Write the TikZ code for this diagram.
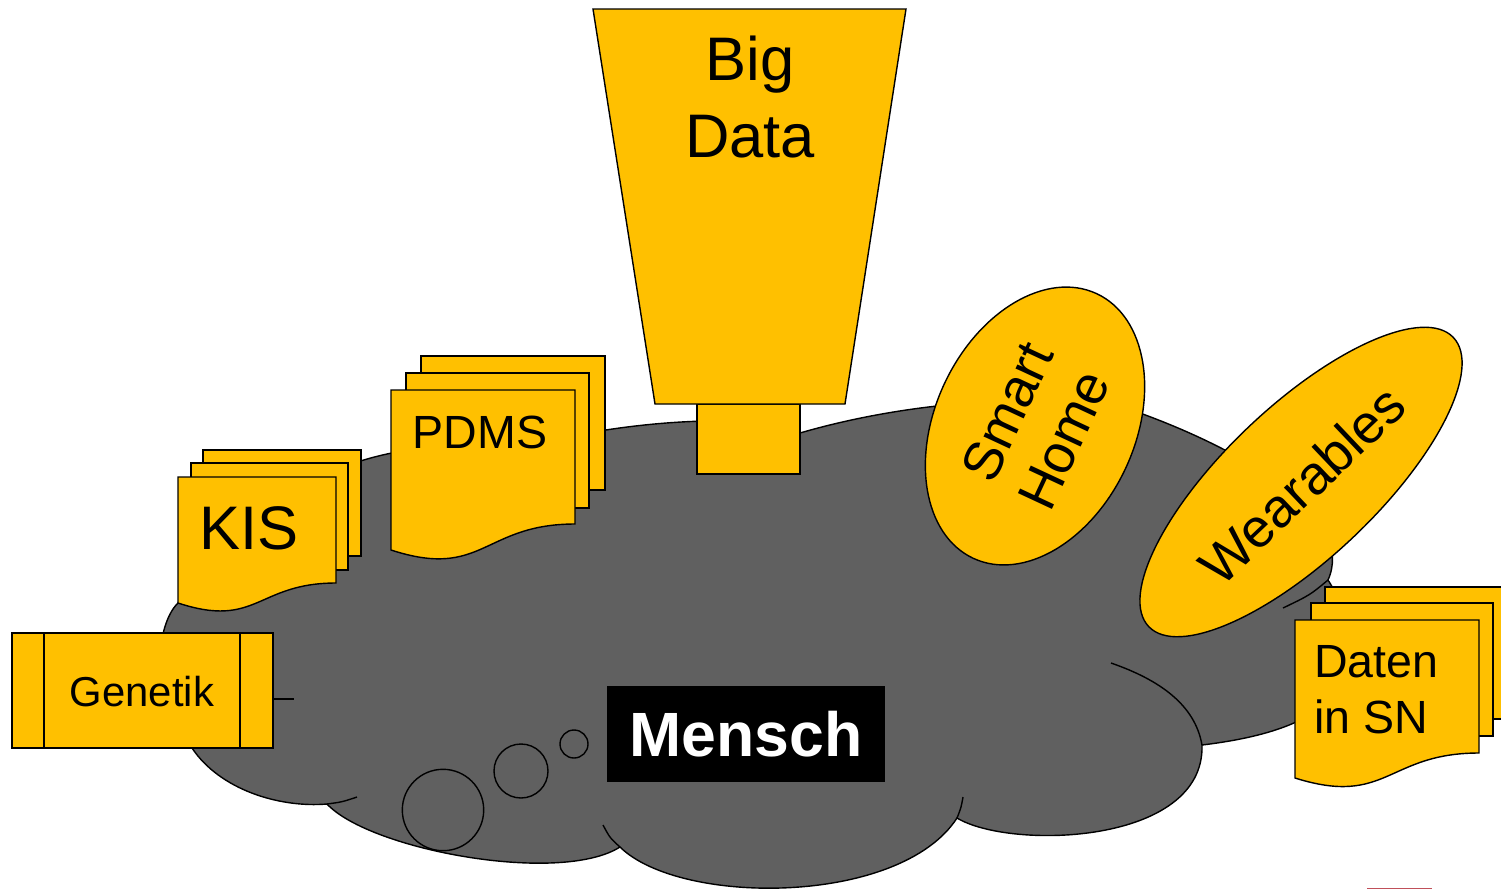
\documentclass[tikz,border=0pt]{standalone}
\usepackage{fontspec}
\setmainfont{Liberation Sans}
\definecolor{gold}{RGB}{255,192,0}
\definecolor{cloudgray}{RGB}{96,96,96}
\definecolor{marker}{RGB}{192,80,90}
\tikzset{
  outline/.style={draw=black, line width=0.8pt, line join=miter},
  goldshape/.style={outline, fill=gold},
  lbl/.style={inner sep=0pt, text=black},
  bigtxt/.style={lbl, font=\fontsize{35}{42}\selectfont},
  midtxt/.style={lbl, font=\fontsize{31}{37}\selectfont},
  smalltxt/.style={lbl, font=\fontsize{26.5}{31}\selectfont},
}
\begin{document}
\begin{tikzpicture}[x=0.02cm,y=-0.02cm]
\useasboundingbox (0,0) rectangle (1501,890);
\clip (0,0) rectangle (1501,890);

% cloud (Mensch)
\path[outline, fill=cloudgray]
  (178,603) .. controls (155,625) and (148,705) .. (192,748)
  .. controls (220,790) and (280,808) .. (327,804)
  .. controls (370,850) and (560,885) .. (620,847)
  .. controls (680,906) and (900,906) .. (957,818)
  .. controls (1010,850) and (1205,845) .. (1202,745)
  .. controls (1260,738) and (1345,720) .. (1345,660)
  .. controls (1345,620) and (1340,598) .. (1328,580)
  .. controls (1355,520) and (1255,455) .. (1140,413)
  .. controls (1060,392) and (920,398) .. (800,433)
  .. controls (760,410) and (600,422) .. (520,450)
  .. controls (430,438) and (350,455) .. (300,490)
  .. controls (240,520) and (195,565) .. (178,603) -- cycle;
% inner arcs of the cloud
\draw[outline] (327,804) .. controls (342,802) .. (357,797);
\draw[outline] (620,847) .. controls (610,838) .. (603,825);
\draw[outline] (957,818) .. controls (961,808) .. (963,797);
\draw[outline] (1202,745) .. controls (1195,705) and (1160,680) .. (1111,663);
\draw[outline] (1328,580) .. controls (1310,595) .. (1283,608);
% thought bubbles
\draw[outline] (443,810) circle [radius=40.7];
\draw[outline] (521,771) circle [radius=27];
\draw[outline] (574,744) circle [radius=14];

% KIS stack
\path[goldshape] (203,450) rectangle (361,556);
\path[goldshape] (191,463) rectangle (348,570);
\path[goldshape] (178,477) -- (336,477) -- (336,583)
  .. controls (257,583) and (257,629) .. (178,603) -- cycle;
\node[bigtxt, anchor=base] (kis) at (249,549) {KIS};

% PDMS stack
\path[goldshape] (421,356) rectangle (605,490);
\path[goldshape] (406,373) rectangle (589,508);
\path[goldshape] (391,390) -- (575,390) -- (575,524)
  .. controls (483,524) and (483,580) .. (391,550) -- cycle;
\node[smalltxt, anchor=base] (pdms) at (480,448) {PDMS};

% Big Data funnel
\path[goldshape] (697,404) rectangle (800,474);
\path[goldshape] (593,9) -- (906,9) -- (845,404) -- (655,404) -- cycle;
\node[bigtxt, anchor=base] (big) at (750,80) {Big};
\node[bigtxt, anchor=base] (data) at (750,157) {Data};

% Smart Home
\path[goldshape, rotate around={65:(1035,426)}] (1035,426) ellipse [x radius=146, y radius=100];
\node[midtxt, rotate=65] (smart) at (1007,412) {Smart};
\node[midtxt, rotate=65] (home) at (1064,440) {Home};

% Wearables
\path[goldshape, rotate around={43.5:(1301,482)}] (1301,482) ellipse [x radius=210, y radius=76];
\node[midtxt, rotate=43.5] (wear) at (1302,485) {Wearables};

% Daten in SN stack
\path[goldshape] (1325,587) rectangle (1510,719);
\path[goldshape] (1311,603) rectangle (1493,736);
\path[goldshape] (1295,620) -- (1479,620) -- (1479,753)
  .. controls (1387,753) and (1387,807) .. (1295,778) -- cycle;
\node[smalltxt, anchor=base west] (daten) at (1314,677) {Daten};
\node[smalltxt, anchor=base west] (insn) at (1314,733) {in SN};

% Genetik
\coordinate (gA) at (273,699);
\coordinate (gB) at (294,699);
\draw[outline] (gA) -- (gB);
\path[goldshape] (12,633) rectangle (273,748);
\draw[outline] (44,633) -- (44,748);
\draw[outline] (240,633) -- (240,748);
\node[lbl, font=\fontsize{23.8}{28}\selectfont, anchor=base] (genetik) at (142,706) {Genetik};

% Mensch
\node[fill=black, text=white, inner sep=0pt, minimum width=5.56cm, minimum height=1.92cm,
      font=\bfseries\fontsize{35.6}{42}\selectfont] (mensch) at (746,734) {Mensch};

% marker at the bottom edge
\coordinate (mA) at (1367,888.5);
\coordinate (mB) at (1432,888.5);
\draw[marker, line width=1pt] (mA) -- (mB);
\end{tikzpicture}
\end{document}
